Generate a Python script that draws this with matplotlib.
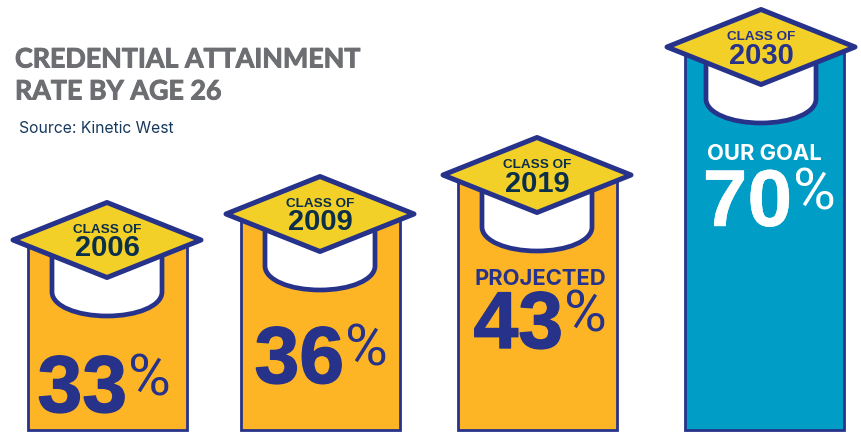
import matplotlib
matplotlib.use("Agg")
import matplotlib.pyplot as plt
import matplotlib.patheffects as pe
from matplotlib.patches import PathPatch, Polygon, Rectangle
from matplotlib.path import Path

# data
classes = ["2006", "2009", "2019", "2030"]
rates = [33, 36, 43, 70]
notes = ["", "", "PROJECTED", "OUR GOAL"]
# bars are not drawn to one scale in the original, so heights are read off it (px)
drawn_heights = [190, 216, 255, 383]

# layout
centres = [107, 320, 537, 761]
bar_shift = [0, 0, 0, 3]
bar_widths = [159, 159, 159, 159]
bar_colors = ["#FDB525", "#FDB525", "#FDB525", "#009EC6"]
rate_colors = ["#27338A", "#27338A", "#27338A", "#FFFFFF"]
class_colors = ["#0B2F4A", "#0B2F4A", "#0B2F4A", "#27338A"]
# baseline of the number below the cap centre, right end of the number from the bar centre
rate_base = [172, 169, 173, 179]
rate_right = [20, 24, 26, 31]
rate_stroke = [1.0, 1.0, 1.0, 0.3]
note_up = [0, 0, 63, 66]
NAVY = "#27338A"
BASE = 430
BOLD = "Liberation Sans"

fig = plt.figure(figsize=(8.61, 4.32), dpi=100)
ax = fig.add_axes([0, 0, 1, 1])
ax.set_xlim(0, 861)
ax.set_ylim(432, 0)
ax.axis("off")


def draw_cap(cx, cy):
    # white inside of the cap, under the diamond
    verts = [(cx - 55, cy), (cx - 55, cy + 52),
             (cx - 55, cy + 66), (cx - 30, cy + 76), (cx, cy + 76),
             (cx + 30, cy + 76), (cx + 55, cy + 66), (cx + 55, cy + 52),
             (cx + 55, cy), (cx - 55, cy)]
    codes = [Path.MOVETO, Path.LINETO, Path.CURVE4, Path.CURVE4, Path.CURVE4,
             Path.CURVE4, Path.CURVE4, Path.CURVE4, Path.LINETO, Path.CLOSEPOLY]
    ax.add_patch(PathPatch(Path(verts, codes), fc="white", ec=NAVY, lw=3.4, zorder=3))
    ax.add_patch(Polygon([(cx - 94, cy), (cx, cy - 37.5), (cx + 94, cy), (cx, cy + 37.5)],
                         closed=True, fc="#F2D027", ec=NAVY, lw=3.6, joinstyle="round", zorder=4))


for i, year in enumerate(classes):
    cx = centres[i]
    top = BASE - drawn_heights[i]
    bar_cx = cx + bar_shift[i]
    ax.add_patch(Rectangle((bar_cx - bar_widths[i] / 2, top), bar_widths[i], drawn_heights[i],
                           fc=bar_colors[i], ec=NAVY, lw=2.0, zorder=2))
    draw_cap(cx, top)
    ax.text(cx, top - 7, "CLASS OF", ha="center", va="baseline", fontsize=9.7, family=BOLD,
            weight="bold", color=class_colors[i], zorder=5)
    ax.text(cx, top + 16.5, year, ha="center", va="baseline", fontsize=21, family=BOLD,
            weight="bold", color=class_colors[i], zorder=5)
    # number with the smaller raised % sign beside it
    base = top + rate_base[i]
    ax.text(cx + rate_right[i], base, str(rates[i]), ha="right", va="baseline", fontsize=58,
            family=BOLD, weight="bold", color=rate_colors[i], zorder=5,
            path_effects=[pe.withStroke(linewidth=rate_stroke[i], foreground=rate_colors[i])])
    ax.text(cx + rate_right[i] + 1, base - 17, "%", ha="left", va="baseline", fontsize=42,
            family="Roboto", color=rate_colors[i], zorder=5)
    if notes[i]:
        ax.text(cx + 3, base - note_up[i], notes[i], ha="center", va="baseline", fontsize=15.8,
                family="Inter", weight="bold", color=rate_colors[i], zorder=5)

heavy = [pe.withStroke(linewidth=0.7, foreground="#6D6E71")]
ax.text(15, 67.5, "CREDENTIAL ATTAINMENT", fontsize=19.3, family="Lato", weight="bold",
        color="#6D6E71", va="baseline", path_effects=heavy)
ax.text(15, 99.5, "RATE BY AGE 26", fontsize=19.3, family="Lato", weight="bold",
        color="#6D6E71", va="baseline", path_effects=heavy)
ax.text(19, 133, "Source: Kinetic West", fontsize=11.3, family="Inter", color="#17395C", va="baseline")

fig.savefig("out.png", dpi=100)
